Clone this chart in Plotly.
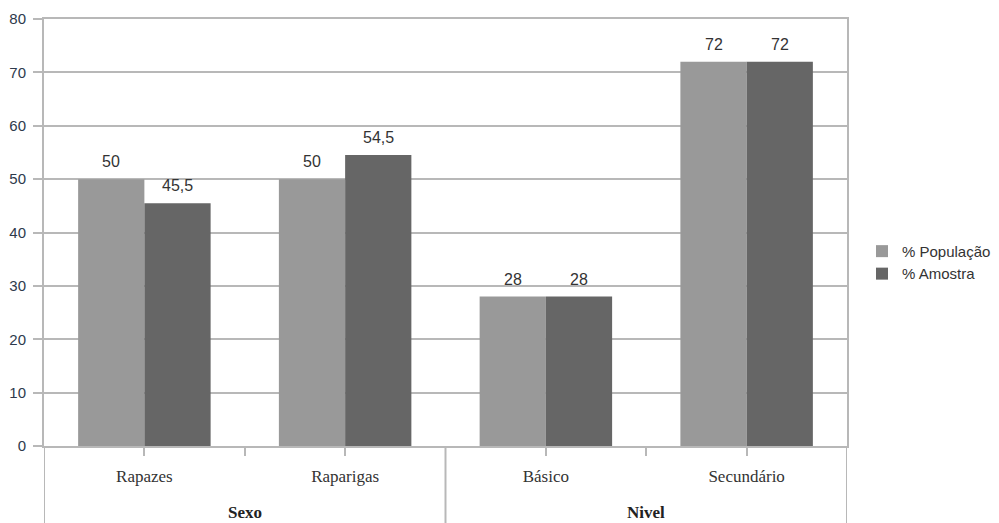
import plotly.graph_objects as go

# Categories and the group each one belongs to
categories = ["Rapazes", "Raparigas", "Básico", "Secundário"]
groups = ["Sexo", "Sexo", "Nivel", "Nivel"]

# Percentages per series
populacao = [50, 50, 28, 72]
amostra = [45.5, 54.5, 28, 72]

y_ticks = [0, 10, 20, 30, 40, 50, 60, 70, 80]

GRID = "#b8b8b8"
SANS = "Liberation Sans, Arial, sans-serif"
SERIF = "Liberation Serif, DejaVu Serif, serif"
LABEL_FONT = dict(family=SANS, size=16, color="#333333")

W, H = 999, 523
M_L, M_T, M_B = 44, 19, 77
PLOT_RIGHT = 847
X_DOMAIN = [0, (PLOT_RIGHT - M_L) / (W - M_L)]
PLOT_H = H - M_T - M_B
BARGAP = 0.34


def fmt(v):
    return f"{v:g}".replace(".", ",")


n = len(categories)
xpos = list(range(n))

# Ticks at every category centre and at the boundaries inside a group
tick_vals = list(xpos) + [i + 0.5 for i in range(n - 1) if groups[i] == groups[i + 1]]
tick_text = list(categories) + [""] * (len(tick_vals) - n)

# Group spans: (name, first index, last index)
spans = []
for i, g in enumerate(groups):
    if spans and spans[-1][0] == g:
        spans[-1][2] = i
    else:
        spans.append([g, i, i])

series = [
    ("% População", populacao, "#999999"),
    ("% Amostra", amostra, "#666666"),
]

fig = go.Figure()
for name, values, color in series:
    fig.add_trace(go.Bar(
        name=name,
        x=xpos,
        y=values,
        marker=dict(color=color, line=dict(width=0)),
    ))

# Value labels above each bar (centre of each bar within its group)
bar_w = (1 - BARGAP) / len(series)
for k, (_, values, _) in enumerate(series):
    offset = -(1 - BARGAP) / 2 + bar_w * (k + 0.5)
    for i, v in enumerate(values):
        fig.add_annotation(
            x=i + offset, y=v, xref="x", yref="y",
            text=fmt(v), showarrow=False,
            yanchor="bottom", yshift=7,
            font=LABEL_FONT,
        )

# Group labels below the category labels, with dividers between groups
divider_bottom = -M_B / PLOT_H
for name, a, b in spans:
    fig.add_annotation(
        x=(a + b) / 2, xref="x",
        y=-66 / PLOT_H, yref="paper",
        text=f"<b>{name}</b>",
        showarrow=False,
        yanchor="middle",
        font=dict(family=SERIF, size=17, color="#222222"),
    )
edges = [spans[0][1] - 0.5] + [b + 0.5 for _, _, b in spans]
for e in edges:
    fig.add_shape(
        type="line", xref="x", yref="paper",
        x0=e, x1=e, y0=0, y1=divider_bottom,
        line=dict(color=GRID, width=2),
    )

fig.update_layout(
    width=W,
    height=H,
    margin=dict(l=M_L, r=0, t=M_T, b=M_B),
    paper_bgcolor="white",
    plot_bgcolor="white",
    barmode="group",
    bargap=BARGAP,
    bargroupgap=0,
    legend=dict(
        x=(862 - M_L) / (W - M_L), y=0.43, xanchor="left", yanchor="middle",
        font=dict(family=SANS, size=15, color="#333333"),
        itemwidth=30,
        tracegroupgap=0,
    ),
    showlegend=True,
    xaxis=dict(
        domain=X_DOMAIN,
        range=[-0.5, n - 0.5],
        tickvals=tick_vals,
        ticktext=tick_text,
        showgrid=False,
        zeroline=False,
        showline=True,
        linecolor=GRID,
        linewidth=2,
        mirror=True,
        ticks="outside",
        ticklen=8,
        tickwidth=2,
        tickcolor=GRID,
        ticklabelstandoff=6,
        tickfont=dict(family=SERIF, size=17, color="#333333"),
    ),
    yaxis=dict(
        range=[0, 80],
        tickvals=y_ticks,
        showgrid=True,
        gridcolor=GRID,
        gridwidth=2,
        showline=True,
        linecolor=GRID,
        linewidth=2,
        mirror=True,
        ticks="outside",
        ticklen=9,
        tickwidth=2,
        tickcolor=GRID,
        ticklabelstandoff=4,
        tickfont=dict(family=SANS, size=15, color="#2e3a4c"),
        zeroline=False,
    ),
)

fig.write_html("out.html")
